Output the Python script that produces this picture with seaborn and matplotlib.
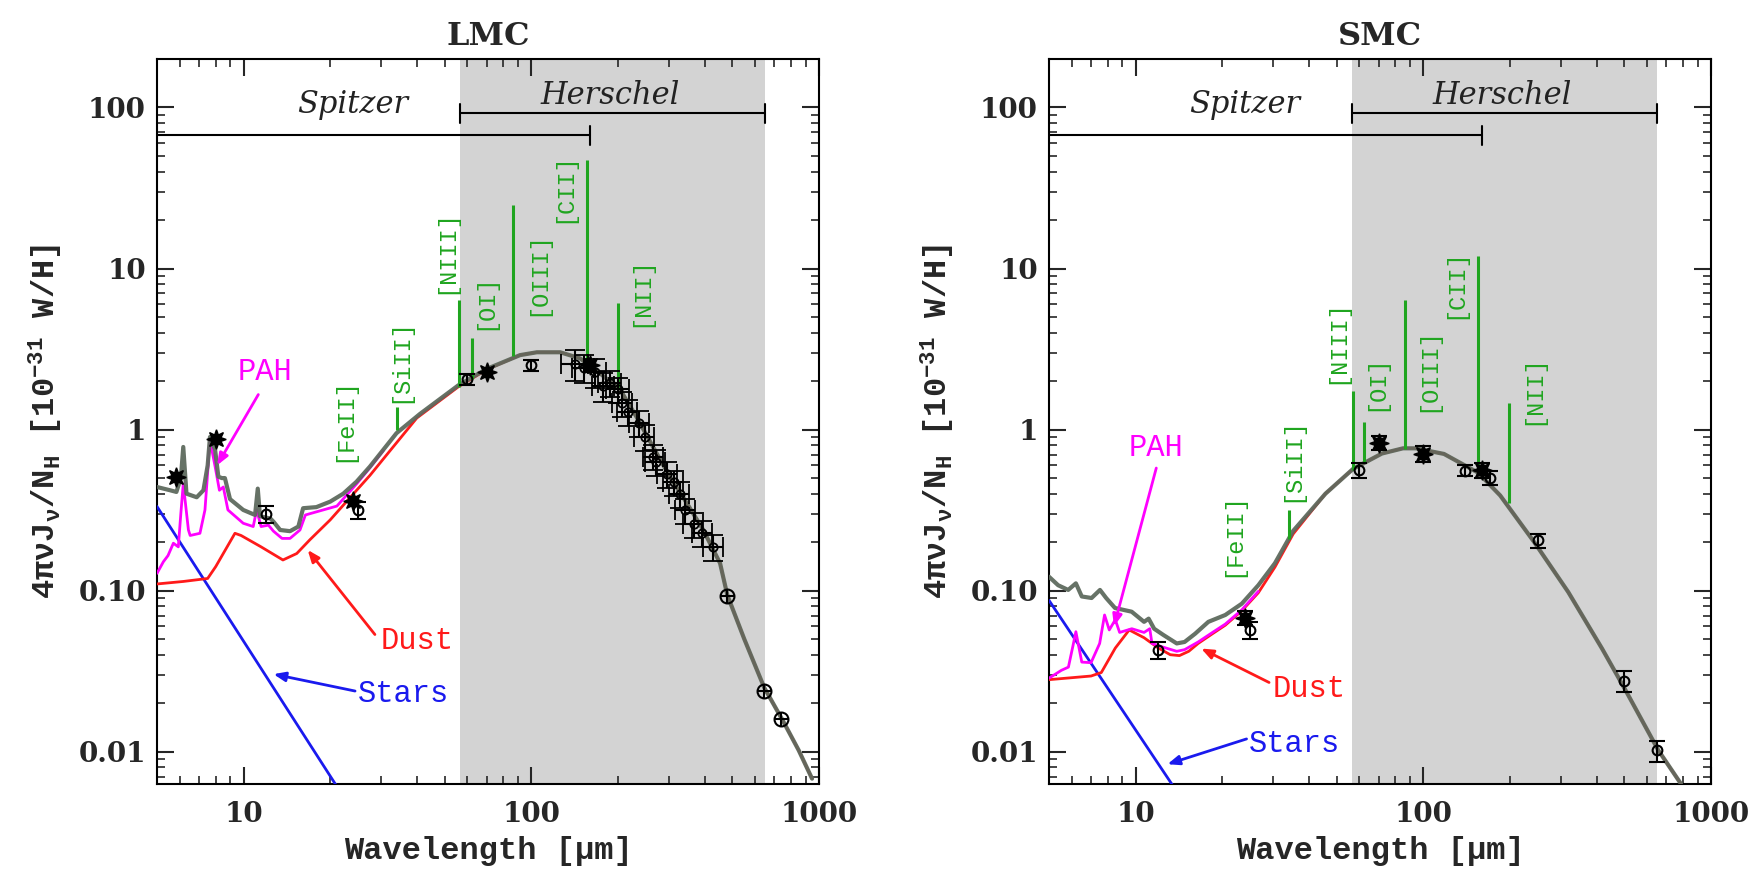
import matplotlib
matplotlib.use("Agg")
import matplotlib.pyplot as plt
import seaborn as sns
from matplotlib.ticker import FixedLocator, FixedFormatter, LogLocator, NullFormatter

# ------------------------------------------------------------------ data
# LMC model curves (wavelength in micron, 4 pi nu J_nu / N_H in 1e-31 W/H)
lmc_tot_wl = [5.0, 5.55, 5.84, 6.05, 6.17, 6.33, 6.87, 7.25, 7.5, 7.64, 7.96, 8.17, 8.4, 8.61,
              8.97, 9.97, 10.96, 11.2, 11.4, 12.4, 12.7, 13.4, 14.5, 15.5, 16.1, 17.9, 20.0,
              22.2, 24.7, 27.5, 30.6, 34.0, 41.0, 55.7, 70, 91.4, 104.5, 126, 147.6, 173,
              204, 232, 265, 303, 347, 396, 453, 480, 550, 645, 750, 850, 946]
lmc_tot_y = [0.44, 0.42, 0.41, 0.50, 0.78, 0.40, 0.38, 0.42, 0.60, 0.90, 0.75, 0.51, 0.50, 0.50,
             0.37, 0.317, 0.295, 0.43, 0.29, 0.28, 0.268, 0.238, 0.234, 0.25, 0.325, 0.33, 0.357,
             0.40, 0.475, 0.59, 0.75, 0.95, 1.25, 1.88, 2.38, 2.90, 3.02, 3.02, 2.77, 2.24,
             1.76, 1.20, 0.78, 0.51, 0.35, 0.238, 0.148, 0.094, 0.050, 0.025, 0.0155, 0.0102, 0.0068]
lmc_dust_wl = [5.0, 6.17, 7.5, 8.0, 9.33, 9.8, 11.5, 13.7, 15.3, 17.0, 20.0, 23.5, 27.5, 32.3,
               40.0, 55.7, 70, 91.4, 104.5, 126, 147.6, 173, 204, 232, 265, 303, 347, 396, 453,
               480, 550, 645, 750, 850, 946]
lmc_dust_y = [0.11, 0.114, 0.119, 0.141, 0.227, 0.22, 0.187, 0.155, 0.17, 0.207, 0.275, 0.38,
              0.52, 0.74, 1.18, 1.84, 2.36, 2.90, 3.02, 3.02, 2.77, 2.24, 1.76, 1.20, 0.78, 0.51,
              0.35, 0.238, 0.148, 0.094, 0.050, 0.025, 0.0155, 0.0102, 0.0068]
lmc_pah_wl = [5.0, 5.26, 5.46, 5.7, 5.93, 6.05, 6.17, 6.43, 6.52, 7.05, 7.34, 7.64, 7.96, 8.24,
              8.5, 8.82, 9.97, 10.8, 11.1, 11.5, 12.2, 12.7, 13.6, 14.5, 15.7, 16.4, 18.9, 21.1,
              24.7, 27.5, 30.6]
lmc_pah_y = [0.128, 0.151, 0.165, 0.197, 0.187, 0.30, 0.46, 0.238, 0.22, 0.227, 0.317, 0.86, 0.59,
             0.42, 0.44, 0.317, 0.262, 0.25, 0.317, 0.25, 0.255, 0.234, 0.211, 0.211, 0.238,
             0.295, 0.317, 0.335, 0.46, 0.58, 0.74]
lmc_star_wl = [5.0, 21.2]
lmc_star_y = [0.333, 0.0060]

# LMC emission lines
lmc_line_wl = [34.0, 56.2, 62.1, 86.1, 156, 200]
lmc_line_base = [1.0, 1.85, 2.05, 2.85, 2.6, 1.85]
lmc_line_top = [1.39, 6.4, 3.7, 24.9, 47.3, 6.1]
lmc_lab_text = ["[FeII]", "[SiII]", "[NIII]", "[OI]", "[OIII]", "[CII]", "[NII]"]
lmc_lab_wl = [22.2, 35.0, 50.5, 69.0, 105, 130, 240]
lmc_lab_y = [1.15, 2.68, 12.75, 6.24, 9.27, 31.6, 7.2]

# LMC observations
lmc_filled_wl = [5.8, 8.0, 24, 70, 160]
lmc_filled_y = [0.51, 0.88, 0.36, 2.27, 2.50]
lmc_open_wl = [12, 25, 60, 100]
lmc_open_y = [0.30, 0.315, 2.06, 2.52]
lmc_open_err = [0.12, 0.12, 0.08, 0.08]
lmc_spec_wl = [142, 152, 167, 178, 188, 200, 207, 216, 237, 248, 265, 271, 297, 313, 328, 343,
               367, 393, 429]
lmc_spec_y = [2.56, 2.42, 2.27, 1.86, 1.95, 1.78, 1.46, 1.29, 1.10, 0.90, 0.68, 0.63, 0.53, 0.47,
              0.40, 0.315, 0.258, 0.228, 0.187]
lmc_spec_xerr = [0.11, 0.09, 0.09, 0.09, 0.09, 0.09, 0.08, 0.08, 0.08, 0.08, 0.08, 0.08, 0.08,
                 0.08, 0.08, 0.08, 0.08, 0.08, 0.08]
lmc_spec_yerr = [0.22, 0.2, 0.2, 0.2, 0.18, 0.18, 0.18, 0.18, 0.18, 0.18, 0.18, 0.18, 0.18, 0.18,
                 0.18, 0.18, 0.18, 0.18, 0.18]
lmc_cross_wl = [480, 645, 740]
lmc_cross_y = [0.092, 0.0238, 0.0159]

# SMC model curves
smc_tot_wl = [5.0, 5.38, 5.83, 6.2, 6.5, 7.03, 7.52, 7.9, 8.48, 9.69, 10.7, 11.1, 11.6, 12.5, 13.9,
              14.8, 16.1, 17.9, 20.5, 23.4, 26.7, 30.5, 35.3, 45.7, 57.0, 71.8, 85, 94.1, 118,
              155, 185, 243, 319, 418, 500, 656, 787]
smc_tot_y = [0.122, 0.108, 0.101, 0.111, 0.092, 0.090, 0.101, 0.090, 0.078, 0.074, 0.064, 0.067,
             0.058, 0.053, 0.047, 0.048, 0.054, 0.064, 0.0706, 0.083, 0.108, 0.148, 0.235, 0.40,
             0.57, 0.71, 0.765, 0.765, 0.706, 0.54, 0.39, 0.20, 0.098, 0.0437, 0.0248, 0.0102,
             0.0063]
smc_dust_wl = [5.0, 6.0, 7.0, 7.6, 8.5, 9.5, 10.7, 12.0, 13.2, 14.2, 15.3, 16.5, 18.5, 20.5, 23.4,
               26.7, 30.5, 35.3, 45.7, 57.0, 71.8, 85, 94.1, 118, 155, 185, 243, 319, 418, 500,
               656, 787]
smc_dust_y = [0.028, 0.0288, 0.0295, 0.031, 0.044, 0.057, 0.051, 0.044, 0.040, 0.0395, 0.042,
              0.047, 0.054, 0.061, 0.075, 0.097, 0.14, 0.225, 0.40, 0.57, 0.71, 0.765, 0.765,
              0.706, 0.54, 0.39, 0.20, 0.098, 0.0437, 0.0248, 0.0102, 0.0063]
smc_pah_wl = [5.0, 5.52, 5.84, 6.05, 6.2, 6.5, 7.0, 7.5, 7.8, 8.1, 8.5, 8.8, 9.7, 10.7, 11.2, 11.4,
              12.5, 13.9, 14.8, 16.5, 18.5, 20.5, 23.4, 26.7]
smc_pah_y = [0.0286, 0.032, 0.0335, 0.045, 0.0556, 0.036, 0.0357, 0.047, 0.0706, 0.057, 0.066,
             0.055, 0.058, 0.055, 0.058, 0.047, 0.0445, 0.042, 0.043, 0.048, 0.055, 0.062, 0.076,
             0.099]
smc_star_wl = [5.0, 13.6]
smc_star_y = [0.087, 0.0060]

smc_line_wl = [34.0, 57.0, 62.0, 86.3, 155, 199]
smc_line_base = [0.21, 0.56, 0.62, 0.76, 0.54, 0.35]
smc_line_top = [0.317, 1.73, 1.12, 6.4, 11.9, 1.46]
smc_lab_text = ["[FeII]", "[SiII]", "[NIII]", "[OI]", "[OIII]", "[CII]", "[NII]"]
smc_lab_wl = [21.8, 34.9, 50.0, 68.5, 104, 129, 241]
smc_lab_y = [0.222, 0.648, 3.52, 1.94, 2.35, 8.1, 1.76]

smc_filled_wl = [24, 70, 100, 160]
smc_filled_y = [0.068, 0.83, 0.71, 0.56]
smc_filled_err = [0.1, 0.1, 0.12, 0.1]
smc_open_wl = [12, 25, 60, 140, 170, 250, 500, 650]
smc_open_y = [0.0428, 0.057, 0.56, 0.556, 0.50, 0.205, 0.0275, 0.0102]
smc_open_err = [0.12, 0.12, 0.1, 0.08, 0.1, 0.1, 0.15, 0.15]

# instrument coverage (micron) and axis ticks
herschel_range = [56.5, 650]
spitzer_range = [3.0, 160]
xticks = [10, 100, 1000]
xticklabels = ["10", "100", "1000"]
yticks = [0.01, 0.1, 1, 10, 100]
yticklabels = ["0.01", "0.10", "1", "10", "100"]

# ------------------------------------------------------------------ style
sns.set_style("ticks")
plt.rcParams['font.family'] = ['DejaVu Serif']
plt.rcParams['mathtext.fontset'] = 'custom'
plt.rcParams['mathtext.rm'] = 'Liberation Mono:bold'
plt.rcParams['mathtext.it'] = 'Liberation Mono:bold'
plt.rcParams['mathtext.bf'] = 'Liberation Mono:bold'

GRAY = '#5e6a5e'
RED = '#ff1a1a'
MAG = '#ff00ff'
BLUE = '#1a1aee'
GREEN = '#1fa51f'
MONO = ['Liberation Mono', 'DejaVu Sans Mono']

fig = plt.figure(figsize=(17.6, 8.8), dpi=100)
axL = fig.add_axes([157 / 1760, 1 - 784 / 880, 662 / 1760, 725 / 880])
axR = fig.add_axes([1049 / 1760, 1 - 784 / 880, 662 / 1760, 725 / 880])


def draw(ax, title, tot, dust, pah, star, lines, labels, annots):
    ax.set_xscale('log')
    ax.set_yscale('log')
    ax.set_xlim(5, 1000)
    ax.set_ylim(0.0063, 200)
    ax.axvspan(herschel_range[0], herschel_range[1], color='#d3d3d3', lw=0, zorder=0)

    sns.lineplot(x=star[0], y=star[1], ax=ax, color=BLUE, lw=2.0, sort=False, estimator=None, zorder=3)
    sns.lineplot(x=dust[0], y=dust[1], ax=ax, color=RED, lw=2.0, sort=False, estimator=None, zorder=3)
    sns.lineplot(x=pah[0], y=pah[1], ax=ax, color=MAG, lw=2.0, sort=False, estimator=None, zorder=3)
    sns.lineplot(x=tot[0], y=tot[1], ax=ax, color=GRAY, lw=3.0, sort=False, estimator=None,
                 zorder=4, alpha=0.95)

    lw_, lb_, lt_ = lines
    ax.vlines(lw_, lb_, lt_, color=GREEN, lw=2.2, zorder=4)
    for t, x, y in zip(*labels):
        ax.text(x, y, t, rotation=90, ha='center', va='center', color=GREEN,
                fontsize=17, family=MONO, zorder=5)

    # instrument bars
    yh, ys, cap = 92, 67, 1.15
    ax.plot(herschel_range, [yh, yh], color='black', lw=1.5, zorder=5)
    for x in herschel_range:
        ax.plot([x, x], [yh / cap, yh * cap], color='black', lw=1.5, zorder=5)
    ax.plot(spitzer_range, [ys, ys], color='black', lw=1.5, zorder=5)
    ax.plot([spitzer_range[1]] * 2, [ys / cap, ys * cap], color='black', lw=1.5, zorder=5)
    ax.text(24, 105, 'Spitzer', style='italic', fontsize=22, ha='center', va='center', color='#222222')
    ax.text(188, 118, 'Herschel', style='italic', fontsize=22, ha='center', va='center', color='#222222')

    for txt, col, tpos, tail, head in annots:
        ax.annotate('', xy=head, xytext=tail,
                    arrowprops=dict(arrowstyle='-|>,head_length=0.7,head_width=0.28', color=col,
                                    lw=2.0, shrinkA=0, shrinkB=0), zorder=6)
        ax.text(tpos[0], tpos[1], txt, color=col, fontsize=22, family=MONO,
                ha='center', va='center', zorder=6)

    ax.set_title(title, fontsize=23, fontweight='bold', pad=10)
    ax.xaxis.set_major_locator(FixedLocator(xticks))
    ax.xaxis.set_major_formatter(FixedFormatter(xticklabels))
    ax.yaxis.set_major_locator(FixedLocator(yticks))
    ax.yaxis.set_major_formatter(FixedFormatter(yticklabels))
    ax.xaxis.set_minor_locator(LogLocator(base=10, subs=range(2, 10), numticks=20))
    ax.yaxis.set_minor_locator(LogLocator(base=10, subs=range(2, 10), numticks=20))
    ax.xaxis.set_minor_formatter(NullFormatter())
    ax.yaxis.set_minor_formatter(NullFormatter())
    ax.tick_params(which='both', direction='in', top=True, right=True)
    ax.tick_params(which='major', length=12, width=1.5, labelsize=20)
    ax.tick_params(axis='x', which='major', pad=12)
    ax.tick_params(axis='y', which='major', pad=8)
    ax.tick_params(which='minor', length=6, width=1.2)
    for lab in ax.get_xticklabels() + ax.get_yticklabels():
        lab.set_fontweight('bold')
    for s in ax.spines.values():
        s.set_linewidth(1.5)
        s.set_color('black')
    ax.set_xlabel('Wavelength [\u03bcm]', fontsize=23, family=MONO, fontweight='bold', labelpad=6)
    ax.set_ylabel('4\u03c0\u03bdJ$_{\u03bd}$/N$_{\\rm H}$ [10$^{-31}$ W/H]', fontsize=23,
                  family=MONO, fontweight='bold', labelpad=10)


def points(ax, filled, opened, spec=None, cross=None):
    fw, fy, fe = filled
    if fe is not None:
        ax.errorbar(fw, fy, yerr=[[y * e for y, e in zip(fy, fe)]] * 2, fmt='none', ecolor='black',
                    elinewidth=1.5, capsize=6, capthick=1.5, zorder=7)
    ax.plot(fw, fy, ls='none', marker=(8, 1, 0), ms=14, color='black', zorder=8)
    ow, oy, oe = opened
    ax.errorbar(ow, oy, yerr=[[y * e for y, e in zip(oy, oe)]] * 2, fmt='o', mfc='none', mec='black',
                ms=7, mew=1.5, ecolor='black', elinewidth=1.5, capsize=6, capthick=1.5, zorder=8)
    if spec is not None:
        sw, sy, sxe, sye = spec
        ax.errorbar(sw, sy, xerr=[[x * e for x, e in zip(sw, sxe)]] * 2,
                    yerr=[[y * e for y, e in zip(sy, sye)]] * 2, fmt='o', mfc='none', mec='black',
                    ms=6, mew=1.3, ecolor='black', elinewidth=1.5, capsize=7, capthick=1.5, zorder=8)
    if cross is not None:
        cw, cy = cross
        ax.plot(cw, cy, ls='none', marker='o', mfc='none', mec='black', ms=10, mew=1.5, zorder=8)
        ax.plot(cw, cy, ls='none', marker='+', color='black', ms=10, mew=1.5, zorder=8)


lmc_annots = [
    ('PAH', MAG, (11.9, 2.27), (11.25, 1.65), (8.09, 0.60)),
    ('Dust', RED, (40.2, 0.049), (28.6, 0.0534), (16.7, 0.179)),
    ('Stars', BLUE, (35.9, 0.0229), (24.4, 0.0238), (12.7, 0.0303)),
]
smc_annots = [
    ('PAH', MAG, (11.8, 0.765), (11.8, 0.577), (8.41, 0.060)),
    ('Dust', RED, (40.0, 0.0244), (29.1, 0.0269), (16.9, 0.0437)),
    ('Stars', BLUE, (35.7, 0.0112), (24.3, 0.012), (12.9, 0.00836)),
]

draw(axL, 'LMC', (lmc_tot_wl, lmc_tot_y), (lmc_dust_wl, lmc_dust_y), (lmc_pah_wl, lmc_pah_y),
     (lmc_star_wl, lmc_star_y), (lmc_line_wl, lmc_line_base, lmc_line_top),
     (lmc_lab_text, lmc_lab_wl, lmc_lab_y), lmc_annots)
points(axL, (lmc_filled_wl, lmc_filled_y, None), (lmc_open_wl, lmc_open_y, lmc_open_err),
       spec=(lmc_spec_wl, lmc_spec_y, lmc_spec_xerr, lmc_spec_yerr), cross=(lmc_cross_wl, lmc_cross_y))

draw(axR, 'SMC', (smc_tot_wl, smc_tot_y), (smc_dust_wl, smc_dust_y), (smc_pah_wl, smc_pah_y),
     (smc_star_wl, smc_star_y), (smc_line_wl, smc_line_base, smc_line_top),
     (smc_lab_text, smc_lab_wl, smc_lab_y), smc_annots)
points(axR, (smc_filled_wl, smc_filled_y, smc_filled_err), (smc_open_wl, smc_open_y, smc_open_err))

for ax in (axL, axR):
    ax.set_xlim(5, 1000)
    ax.set_ylim(0.0063, 200)

fig.savefig('out.png', dpi=100)
